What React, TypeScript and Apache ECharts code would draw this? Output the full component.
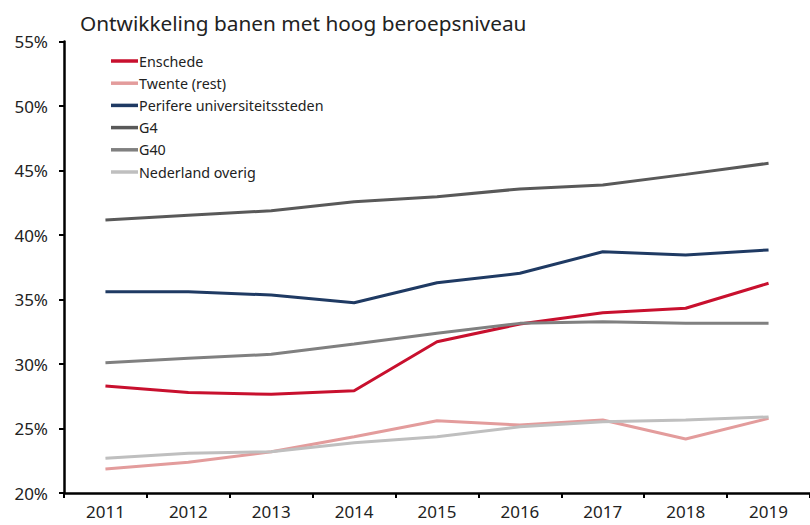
import React, { useEffect, useRef } from "react";
import * as echarts from "echarts";

const years = ["2011", "2012", "2013", "2014", "2015", "2016", "2017", "2018", "2019"];
const enschede = [28.3, 27.8, 27.65, 27.93, 31.73, 33.1, 33.98, 34.32, 36.26];
const twente = [21.86, 22.38, 23.2, 24.36, 25.6, 25.27, 25.66, 24.19, 25.79];
const perifere = [35.6, 35.6, 35.35, 34.75, 36.3, 37.03, 38.7, 38.45, 38.84];
const g4 = [41.16, 41.53, 41.88, 42.58, 42.97, 43.57, 43.88, 44.7, 45.56];
const g40 = [30.1, 30.44, 30.75, 31.55, 32.38, 33.15, 33.28, 33.15, 33.15];
const nlOverig = [22.7, 23.08, 23.2, 23.9, 24.36, 25.14, 25.53, 25.66, 25.9];

const seriesDefs = [
  { name: "Enschede", data: enschede, color: "#C8102E" },
  { name: "Twente (rest)", data: twente, color: "#E39C9C" },
  { name: "Perifere universiteitssteden", data: perifere, color: "#1F3A63" },
  { name: "G4", data: g4, color: "#595959" },
  { name: "G40", data: g40, color: "#808080" },
  { name: "Nederland overig", data: nlOverig, color: "#BFBFBF" },
];

const FONT = "Noto Sans";

export default function App() {
  const ref = useRef<HTMLDivElement>(null);
  useEffect(() => {
    if (!ref.current) return;
    const chart = echarts.init(ref.current, null, { renderer: "svg" });
    chart.setOption({
      animation: false,
      backgroundColor: "#ffffff",
      title: {
        text: "Ontwikkeling banen met hoog beroepsniveau",
        left: 75,
        top: 7,
        textStyle: { fontFamily: FONT, fontSize: 20.8, fontWeight: "normal", color: "#222" },
      },
      legend: {
        orient: "vertical",
        left: 106,
        top: 48,
        itemWidth: 27,
        itemHeight: 3.5,
        itemGap: 6.2,
        icon: "rect",
        textStyle: { fontFamily: FONT, fontSize: 14.3, color: "#222", lineHeight: 16, padding: [0, 0, 0, -4] },
        data: seriesDefs.map((s) => s.name),
      },
      grid: { left: 64, top: 41.5, width: 756, height: 451.5, containLabel: false },
      xAxis: {
        type: "category",
        data: years,
        boundaryGap: true,
        axisLine: { lineStyle: { color: "#000", width: 2.5 } },
        axisTick: { show: true, length: 5, lineStyle: { color: "#000", width: 2 } },
        axisLabel: { fontFamily: FONT, fontSize: 17, color: "#222", margin: 10 },
        splitLine: { show: false },
      },
      yAxis: {
        type: "value",
        min: 20,
        max: 55,
        interval: 5,
        axisLine: { show: true, lineStyle: { color: "#000", width: 2.5 } },
        axisTick: { show: true, length: 5, lineStyle: { color: "#000", width: 2 } },
        axisLabel: { fontFamily: FONT, fontSize: 17, color: "#222", margin: 16, formatter: "{value}%" },
        splitLine: { show: false },
      },
      series: seriesDefs.map((s) => ({
        name: s.name,
        type: "line",
        data: s.data,
        symbol: "none",
        itemStyle: { color: s.color },
        lineStyle: { color: s.color, width: 3 },
      })),
    });
    return () => chart.dispose();
  }, []);
  return (
    <div
      ref={ref}
      style={{ position: "fixed", left: 0, top: 0, width: 810, height: 525 }}
    />
  );
}
